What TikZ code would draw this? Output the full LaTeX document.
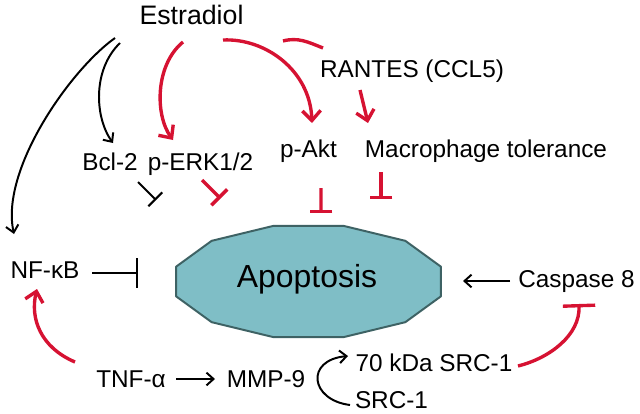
\documentclass[tikz,border=0pt]{standalone}
\usepackage{fontspec}
\setmainfont{Liberation Sans}
\usetikzlibrary{arrows.meta}
\definecolor{inhred}{RGB}{214,18,50}
\definecolor{apopfill}{RGB}{127,190,198}
\definecolor{apopline}{RGB}{62,98,100}
\tikzset{
  lbl/.style={anchor=base, inner sep=0pt, font=\fontsize{17.3}{20}\selectfont},
  blkact/.style={line width=1.4pt, -{Straight Barb[length=5pt,width=9pt]}},
  blkinh/.style={line width=1.4pt, -{Bar[width=#1]}},
  redact/.style={draw=inhred, line width=2.4pt, -{Straight Barb[length=7pt,width=13pt]}},
  redinh/.style={draw=inhred, line width=2.4pt, -{Bar[width=#1]}},
  apopbox/.style={draw=apopline, fill=apopfill, line width=1.4pt, line join=round}
}
\begin{document}
\begin{tikzpicture}[x=0.025cm, y=-0.025cm]
    \useasboundingbox (0,0) rectangle (640,414);
    \draw[apopbox, shift={(308.5,281.5)}] (15:137 and 57.5)
        \foreach \a in {45,75,...,345} { -- (\a:137 and 57.5) } -- cycle;

    \node[lbl, font=\fontsize{19}{22}\selectfont] (estr) at (191.5,24) {Estradiol};
    \node[lbl] (rantes) at (412,77) {RANTES (CCL5)};
    \node[lbl] (bcl) at (110,170) {Bcl-2};
    \node[lbl] (perk) at (200.5,170) {p-ERK1/2};
    \node[lbl] (pakt) at (308.5,157) {p-Akt};
    \node[lbl] (macro) at (486,157) {Macrophage tolerance};
    \node[lbl] (nfkb) at (45,278) {NF-κB};
    \node[lbl, font=\fontsize{22.7}{26}\selectfont] (apop) at (307,287) {Apoptosis};
    \node[lbl] (casp) at (576.5,287) {Caspase 8};
    \node[lbl] (tnf) at (131,387) {TNF-α};
    \node[lbl] (mmp) at (266,387) {MMP-9};
    \node[lbl] (kda) at (434,371) {70 kDa SRC-1};
    \node[lbl] (src) at (391.5,408) {SRC-1};

    \draw[blkact] ([shift={(-76.5,14)}]estr.base) .. controls +(-45,32) and +(-14,-64) .. ([shift={(-31,-44)}]nfkb.base);
    \draw[blkact] ([shift={(-71.5,19)}]estr.base) .. controls +(-28,27) and +(-18,-25) .. ([shift={(3,-27)}]bcl.base);
    \draw[redact] ([shift={(-8.5,18)}]estr.base) .. controls +(-28,23) and +(-18,-25) .. ([shift={(-27.5,-30)}]perk.base);
    \draw[redact] ([shift={(31.5,16)}]estr.base) .. controls +(42,-2) and +(-2,-53) .. ([shift={(3.5,-34)}]pakt.base);
    \draw[draw=inhred, line width=2.4pt] ([shift={(91.5,17)}]estr.base) .. controls +(15,-4) and +(-15,-6) .. ([shift={(-89,-29)}]rantes.base);
    \draw[redact] ([shift={(-52,13)}]rantes.base) -- ([shift={(-118,-34)}]macro.base);

    \draw[blkinh=14pt] ([shift={(28,12)}]bcl.base) -- ([shift={(-151,-87)}]apop.base);
    \draw[redinh=16pt] ([shift={(1.5,10)}]perk.base) -- ([shift={(-86.5,-88.5)}]apop.base);
    \draw[redinh=16pt] ([shift={(12.5,31)}]pakt.base) -- ([shift={(14,-74)}]apop.base);
    \draw[redinh=16pt] ([shift={(-105,15)}]macro.base) -- ([shift={(74,-88)}]apop.base);
    \draw[blkinh=21pt] ([shift={(47,-5)}]nfkb.base) -- ([shift={(-169,-14)}]apop.base);
    \draw[blkact] ([shift={(-66.5,-6)}]casp.base) -- ([shift={(156,-6)}]apop.base);

    \draw[redact] ([shift={(-56,-25)}]tnf.base) .. controls +(-35,-15) and +(-7,29) .. ([shift={(-8,11)}]nfkb.base);
    \draw[blkact] ([shift={(45,-8)}]tnf.base) -- ([shift={(-51,-8)}]mmp.base);
    \draw[blkact] ([shift={(-41.5,-3)}]src.base) .. controls +(-40,-5) and +(-43,4) .. ([shift={(-86,-15)}]kda.base);
    \draw[redinh=23pt] ([shift={(84,-5)}]kda.base) .. controls +(32,-8) and +(1,31) .. ([shift={(2.5,17)}]casp.base);
\end{tikzpicture}
\end{document}
